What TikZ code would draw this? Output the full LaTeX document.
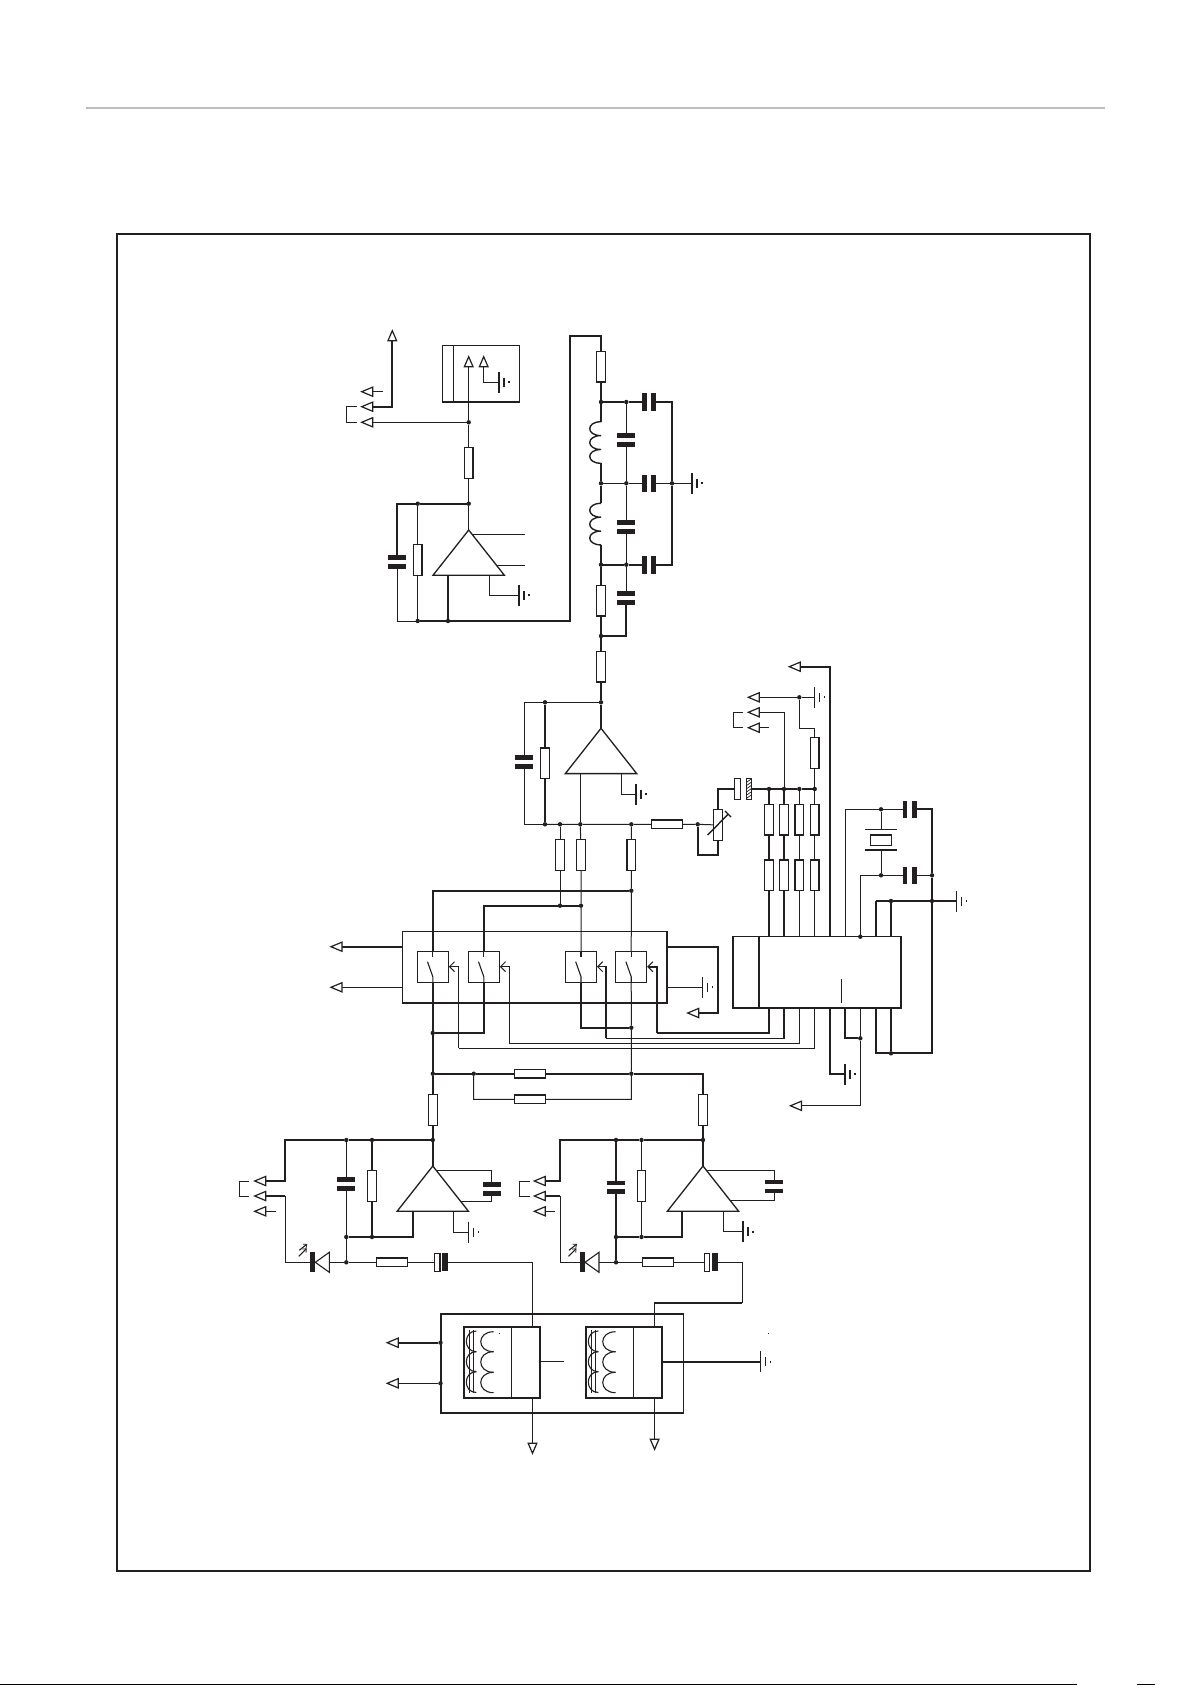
\documentclass[tikz,border=0pt]{standalone}
\usetikzlibrary{calc,arrows.meta,shapes.geometric}
\definecolor{ink}{HTML}{231F20}
\pgfdeclarelayer{paper}
\pgfdeclarelayer{wires}
\pgfsetlayers{paper,wires,main}
\tikzset{
  wire/.style={draw=ink,line width=1pt,line join=miter},
  wireb/.style={draw=ink,line width=1.7pt,line join=miter},
  part/.style={draw=ink,line width=1.2pt,fill=white,inner sep=0pt,outer sep=0pt},
  resv/.style={part,minimum width=8.7pt,minimum height=30.7pt},
  resh/.style={part,minimum width=31pt,minimum height=8.7pt},
  blank/.style={fill=white,inner sep=0pt,outer sep=0pt},
  jn/.style={circle,fill=ink,inner sep=0pt,outer sep=0pt,minimum size=4.4pt},
  tip/.style={draw=ink,line width=1.2pt,fill=white,line join=miter},
  sym/.style={draw=ink,line width=1.1pt},
  barb/.style={-{Straight Barb[length=5pt,width=10pt,line width=1pt]}},
  ledbarb/.style={-{Straight Barb[length=3pt,width=5pt,line width=.8pt]}},
}
\newcommand{\jdot}[3]{\node[jn] (#1) at (#2,#3) {};}
\newcommand{\rv}[3]{\node[resv] (#1) at (#2,#3) {};}
\newcommand{\rh}[3]{\node[resh] (#1) at (#2,#3) {};}
\newcommand{\capv}[3]{\node[blank,minimum width=18pt,minimum height=13.6pt] (#1) at (#2,#3) {};
  \fill[ink] (#1.north west) rectangle ([yshift=-4.7pt]#1.north east);
  \fill[ink] (#1.south west) rectangle ([yshift=4.7pt]#1.south east);}
\newcommand{\caph}[3]{\node[blank,minimum width=14pt,minimum height=17.6pt] (#1) at (#2,#3) {};
  \fill[ink] (#1.north west) rectangle ([xshift=4.7pt]#1.south west);
  \fill[ink] (#1.north east) rectangle ([xshift=-4.7pt]#1.south east);}
\newcommand{\ecap}[3]{\node[blank,minimum width=13.6pt,minimum height=17.8pt] (#1) at (#2,#3) {};
  \draw[sym,fill=white] (#1.north west) rectangle ([xshift=5.6pt]#1.south west);
  \fill[ink] (#1.north east) rectangle ([xshift=-5.6pt]#1.south east);}
\newcommand{\gnd}[3]{\coordinate (#1) at (#2,#3);
  \draw[sym] ($(#1)+(0,-10.5)$) -- ($(#1)+(0,10.5)$);
  \draw[sym] ($(#1)+(5,-4.5)$) -- ($(#1)+(5,4.5)$);
  \draw[sym] ($(#1)+(10,-1)$) -- ($(#1)+(10,1)$);}
\newcommand{\arrL}[3]{\draw[tip] (#2,#3) -- ++(11,-4.6) -- ++(0,9.2) -- cycle;
  \coordinate (#1) at ($(#2,#3)+(11,0)$);}
\newcommand{\arrU}[3]{\draw[tip] (#2,#3) -- ++(-4.3,10) -- ++(8.6,0) -- cycle;
  \coordinate (#1) at ($(#2,#3)+(0,10)$);}
\newcommand{\arrD}[3]{\draw[tip] (#2,#3) -- ++(-4.3,-10) -- ++(8.6,0) -- cycle;
  \coordinate (#1) at ($(#2,#3)+(0,-10)$);}
\newcommand{\ampl}[3]{\draw[draw=ink,line width=1.3pt,fill=white,line join=miter] (#2,#3) -- ++(-35.7,45.3) -- ++(71.4,0) -- cycle;
  \coordinate (#1) at (#2,#3);}
\newcommand{\coil}[3]{\coordinate (#1t) at (#2,#3); \coordinate (#1b) at (#2,#3+41.6);
  \draw[wireb,line width=1.4pt] (#2,#3)
    .. controls ++(-15,0) and ++(-15,0) .. ++(0,13.9)
    .. controls ++(-15,0) and ++(-15,0) .. ++(0,13.9)
    .. controls ++(-15,0) and ++(-15,0) .. ++(0,13.8);}
\newcommand{\boxn}[6]{\pgfmathsetmacro\bcx{(#3+#5)/2}\pgfmathsetmacro\bcy{(#4+#6)/2}%
  \pgfmathsetmacro\bw{#5-#3}\pgfmathsetmacro\bh{#6-#4}%
  \node[draw=ink,inner sep=0pt,outer sep=0pt,minimum width=\bw pt,minimum height=\bh pt,#2] (#1) at (\bcx,\bcy) {};}
\newcommand{\swn}[2]{\node[part,minimum width=31pt,minimum height=30.6pt] (#1) at (#2,967) {};
  \draw[sym] (#2,951.7) -- (#2,956.7);
  \draw[sym] (#2-5.3,961.7) -- (#2,976.7) -- (#2,982.3);}
\newcommand{\led}[3]{\node[blank,minimum width=19pt,minimum height=16pt] (#1) at (#2+9.5,#3) {};
  \fill[ink] (#2,#3-10) rectangle (#2+4.6,#3+10);
  \draw[sym] (#2+5,#3) -- (#2+19,#3-10) -- (#2+19,#3+10) -- cycle;
  \draw[sym,ledbarb] (#2-11.5,#3-6) -- (#2-3.5,#3-14);
  \draw[sym,ledbarb] (#2-11,#3-12) -- (#2-3,#3-18.5);}
\newcommand{\winding}[1]{\begin{scope}[xshift=#1pt]
  \draw[sym] (469.8,1330) -- (469.8,1393.3);
  \draw[sym] (473.6,1330) -- (473.6,1393.3);
  \foreach \ya/\yb in {1331/1351.7,1351.7/1371.7,1371.7/1392.5}{
    \draw[sym] (476.3,\ya) .. controls (463,\ya) and (463,\yb) .. (476.3,\yb);
  }
  \foreach \ya/\yb in {1331.7/1351.7,1351.7/1372.3,1372.3/1392.7}{
    \draw[sym] (493.5,\ya) .. controls (476.5,\ya) and (476.5,\yb) .. (493.5,\yb);
  }
\end{scope}}
\begin{document}
\begin{tikzpicture}[x=1pt,y=-1pt]
\useasboundingbox (0,0) rectangle (1192,1685);
\begin{pgfonlayer}{paper}
\fill[white] (0,0) rectangle (1192,1685);
\end{pgfonlayer}
\draw[draw={rgb,255:red,190;green,190;blue,190},line width=2pt] (86,108) -- (1105,108);
\draw[draw=ink,line width=2pt] (117,234) rectangle (1090,1571);
\fill[black] (0,1684) rectangle (1077,1685);
\fill[black] (1137,1684) rectangle (1155,1685);

%% ---- output stage (top) ----
\arrU{aout}{392.3}{330.7}
\arrL{a1}{361.7}{391.7}
\arrL{a2}{361.7}{406.7}
\arrL{a3}{361.7}{422.3}
\boxn{conn}{line width=1.5pt}{442.7}{345.7}{519.3}{402}
\draw[wire] (453.3,345.7) -- (453.3,402);
\arrU{au1}{468.7}{356.7}
\arrU{au2}{483.7}{356.7}
\gnd{gconn}{499}{382}
\jdot{j1}{468.7}{422.3}
\rv{r1}{468.7}{463}
\jdot{j2}{468.7}{503.7}
\jdot{j3}{417.7}{503.7}
\capv{c1}{397.3}{562}
\rv{r1b}{417.7}{560}
\ampl{amp1}{468.7}{530}
\coordinate (amp1x) at (448,575);
\coordinate (amp1g) at (489,575);
\coordinate (amp1i) at (473,534.3);
\coordinate (amp1j) at (496.7,565);
\gnd{gamp1}{519}{595.3}
\jdot{j4}{417.7}{621}
\jdot{j5}{448}{621}
\coordinate (n1) at (570.3,621);
\coordinate (n2) at (570.3,335.7);

%% ---- filter ----
\rv{r2}{601}{366.7}
\jdot{d1}{601}{402}
\jdot{d2}{626.3}{402}
\caph{ch1}{649}{402}
\capv{cv1}{626.3}{440}
\coil{L1}{601}{421.7}
\jdot{d3}{601}{483.3}
\jdot{d4}{626.3}{483.3}
\caph{ch2}{649}{483.3}
\jdot{d5}{672}{483.3}
\gnd{gfil}{692}{483.3}
\coil{L2}{601}{503.3}
\capv{cv2}{626.3}{526.7}
\jdot{d6}{601}{564.7}
\jdot{d7}{626.3}{564.7}
\caph{ch3}{649}{564.7}
\rv{r3}{601}{600.7}
\capv{cv3}{626.3}{597.7}
\jdot{d8}{601}{636}
\rv{r4}{601}{666.7}
\jdot{d9}{601}{702.3}

%% ---- summing amp ----
\jdot{d10}{545}{702.3}
\capv{c2}{524.3}{761.7}
\rv{r5}{545}{763.3}
\ampl{amp2}{601}{728.3}
\coordinate (amp2x) at (580.3,773.3);
\coordinate (amp2g) at (621,773.3);
\gnd{gamp2}{636}{794}
\jdot{d11}{545}{824.3}
\jdot{d12}{560}{824.3}
\jdot{d13}{580.3}{824.3}
\jdot{d14}{631.3}{824.3}
\rh{r6}{666.7}{824.3}
\jdot{d15}{697.7}{824.3}
\rv{pot}{718}{825}
\draw[wireb,line width=1.4pt] (707.7,835) -- (728.3,814);
\draw[wireb,line width=1.4pt] (725,811) -- (731,817);
\coordinate (lp) at (718,855);
\node[blank,minimum width=17pt,minimum height=20.6pt] (ec1) at (743.2,789) {};
\draw[sym,fill=white] (734.7,778.7) rectangle (740.7,799.3);
\draw[sym] (746.3,778.7) rectangle (751.7,799.3);
\foreach \i in {0,1,2,3,4,5}{\draw[draw=ink,line width=.7pt] (746.3,782.5+3.2*\i) -- (751.7,778.7+3.2*\i);}
\jdot{d16}{769}{789}
\jdot{d17}{784}{789}
\jdot{d18}{799.3}{789}
\jdot{d19}{814.7}{789}
\rv{r7}{769}{819.7}
\rv{r8}{784}{819.7}
\rv{r9}{799.3}{819.7}
\rv{r10}{814.7}{819.7}
\rv{r11}{769}{875.3}
\rv{r12}{784}{875.3}
\rv{r13}{799.3}{875.3}
\rv{r14}{814.7}{875.3}
\rv{r15}{814.7}{753}
\coordinate (n3) at (799.3,728);
\jdot{d20}{799.3}{697.3}
\gnd{gtop}{814.3}{697.3}
\arrL{a4}{789.3}{666.7}
\arrL{a5}{748.3}{697.3}
\arrL{a6}{748.3}{712.3}
\arrL{a7}{748.3}{727.7}

%% ---- controller IC ----
\boxn{ic}{line width=1.6pt}{732.7}{936.3}{901}{1008}
\draw[wireb] (759,936.3) -- (759,1008);
\draw[wire] (841.3,979) -- (841.3,1002.7);
\coordinate (pin1) at (830,936.3);
\coordinate (pin2) at (845,936.3);
\jdot{d21}{881}{809.3}
\caph{ch4}{909.7}{809.3}
\jdot{d22}{932}{875.3}
\caph{ch5}{909.7}{875.3}
\jdot{d25}{881}{875.3}
\coordinate (xa) at (881,829.7);
\coordinate (xb) at (881,850);
\draw[sym] (865,829.7) -- (896.7,829.7);
\draw[sym] (865,850) -- (896.7,850);
\node[part,line width=1.5pt,minimum width=20.6pt,minimum height=10.3pt] (xtal) at (881,840.2) {};
\jdot{d26}{860.3}{936.7}
\coordinate (n4) at (875.7,901);
\jdot{d27}{891}{901}
\jdot{d23}{932}{901}
\gnd{gic}{956.7}{901}
\coordinate (n5) at (932,1053.3);
\jdot{d24}{891}{1053.3}
\jdot{d28}{860.3}{1038.3}
\gnd{gic2}{845}{1074}
\arrL{a8b}{790.4}{1105.8}
\coordinate (n6) at (860.3,1105.8);

%% ---- analogue switches ----
\boxn{swb}{line width=1.2pt}{402.7}{931.7}{667}{1003}
\swn{s1}{432.8}
\swn{s2}{483.8}
\swn{s3}{581}
\swn{s4}{631.2}
\rv{r16}{560}{855}
\rv{r17}{581}{855}
\rv{r18}{631.3}{855}
\jdot{d29}{560}{905.7}
\jdot{d30}{581}{905.7}
\jdot{d31}{631.3}{890.7}
\coordinate (sc1) at (448.8,966.7);
\coordinate (sc2) at (499.8,966.7);
\coordinate (sc3) at (597,966.7);
\coordinate (sc4) at (647.2,966.7);
\coordinate (q1) at (656.7,1032.7);
\coordinate (q2) at (606,1038.3);
\coordinate (q3) at (509.3,1043.3);
\coordinate (q4) at (458.7,1048.3);
\arrL{asw1}{331}{946.7}
\arrL{asw2}{331}{987.3}
\coordinate (swl1) at (402.7,946.7);
\coordinate (swl2) at (402.7,987.3);
\coordinate (swr1) at (667,946.7);
\coordinate (swr2) at (667,987.3);
\gnd{gsw}{702.7}{987.3}
\arrL{asw3}{687.7}{1013}
\coordinate (n7) at (718,1013);
\jdot{d32}{432.8}{1033}
\jdot{d35}{631.3}{1027.7}
\jdot{d33}{432.8}{1073.7}
\jdot{d37}{473.7}{1073.7}
\rh{r20}{530}{1073.7}
\rh{r21}{530}{1099.3}
\jdot{d36}{631.3}{1073.7}
\coordinate (n8) at (631.3,1099.3);
\rv{r19}{432.8}{1110}
\rv{r22}{703}{1110}
\coordinate (n9) at (703,1073.7);

%% ---- left preamp ----
\jdot{d34}{432.8}{1140}
\jdot{d39}{372}{1140}
\jdot{d40}{346.3}{1140}
\coordinate (k1) at (285.3,1140);
\capv{c3}{346.3}{1184}
\rv{r23}{372}{1186}
\ampl{amp3}{432.8}{1166}
\capv{c4}{491.7}{1188.7}
\coordinate (fa3) at (437,1170.7);
\coordinate (fb3) at (461,1201.3);
\coordinate (amp3x) at (412.7,1211.3);
\coordinate (amp3g) at (453.3,1211.3);
\gnd{gamp3}{468.5}{1232}
\jdot{d42}{346.3}{1237}
\jdot{d43}{372}{1237}
\jdot{d41}{346.3}{1262.3}
\rh{r24}{392}{1262.3}
\ecap{ec2}{441.2}{1262.3}
\led{led1}{310.3}{1262.3}
\coordinate (k2) at (285.3,1262.3);
\arrL{a9}{254.7}{1181}
\arrL{a10}{254.7}{1196}
\arrL{a11}{254.7}{1211.3}

%% ---- right preamp ----
\jdot{d38}{703}{1140}
\jdot{d44}{641.5}{1140}
\jdot{d45}{616}{1140}
\coordinate (k3) at (560,1140);
\capv{c5}{616}{1187.3}
\rv{r25}{641.5}{1186}
\ampl{amp4}{703}{1166}
\capv{c6}{774.3}{1186.5}
\coordinate (fa4) at (707,1170.7);
\coordinate (fb4) at (731,1200.7);
\coordinate (amp4x) at (682.3,1211.3);
\coordinate (amp4g) at (723,1211.3);
\gnd{gamp4}{743}{1231.7}
\jdot{d46}{616}{1237}
\jdot{d47}{641.5}{1237}
\jdot{d48}{616}{1262.3}
\rh{r26}{657.6}{1262.3}
\ecap{ec3}{711}{1262.3}
\led{led2}{580}{1262.3}
\coordinate (k4) at (560,1262.3);
\arrL{a12}{534.3}{1181}
\arrL{a13}{534.3}{1196}
\arrL{a14}{534.3}{1211.3}

%% ---- transformers ----
\boxn{tbox}{line width=1.4pt}{441}{1314}{683.3}{1413}
\boxn{t1}{line width=1.6pt}{463.7}{1326.7}{539.8}{1398}
\boxn{t2}{line width=1.6pt}{585.7}{1326.7}{661.9}{1398}
\draw[wire,line width=1.2pt] (511.5,1326.7) -- (511.5,1398);
\draw[wire,line width=1.2pt] (633.5,1326.7) -- (633.5,1398);
\winding{0}
\winding{122}
\coordinate (tw1) at (532.5,1326.7);
\coordinate (tw2) at (654.6,1326.7);
\coordinate (tb1) at (532.5,1398);
\coordinate (tb2) at (654.6,1398);
\coordinate (k5) at (742.2,1302.7);
\coordinate (k6) at (654.6,1302.7);
\coordinate (ts1) at (539.8,1361.7);
\coordinate (ts2) at (563.5,1361.7);
\coordinate (ts3) at (661.9,1361.7);
\gnd{gt}{760.2}{1361.7}
\jdot{d50}{440.5}{1342.7}
\jdot{d51}{440.5}{1383.3}
\arrL{a15}{387.2}{1342.7}
\arrL{a16}{387.2}{1383.3}
\arrD{a17}{532.5}{1453.3}
\arrD{a18}{654.6}{1449.3}
\fill[ink] (499.1,1333) rectangle (499.9,1333.8);
\fill[ink] (768.3,1333) rectangle (769.1,1333.8);

%% ================ connectors ================
\begin{pgfonlayer}{wires}
% top
\draw[wireb] (a2) -| (aout);
\draw[wire] (a1) -- ++(10,0);
\draw[wire] (346,406.7) -- (356.7,406.7);
\draw[wire] (346,422.3) -- (356.7,422.3);
\draw[wire] (346,406.7) -- (346,422.3);
\draw[wire] (a3) -- (j1);
\draw[wire] (au1) -- (j1) -- (r1) -- (j2) -- (amp1);
\draw[wire] (au2) |- (gconn);
\draw[wireb] (j2) -- (j3) -| (c1);
\draw[wire] (c1) |- (j4);
\draw[wire] (j3) -- (r1b) -- (j4);
\draw[wireb] (j4) -- (j5) -- (n1) -- (n2) -| (r2);
\draw[wireb] (amp1x) -- (j5);
\draw[wire] (amp1i) -- ++(52,0);
\draw[wire] (amp1j) -- ++(28.3,0);
\draw[wire] (amp1g) |- (gamp1);
% filter
\draw[wireb] (r2) -- (d1) -- (d2) -- (ch1) -| (d5);
\draw[wireb] (d5) |- (ch3) -- (d7) -- (d6);
\draw[wire] (d3) -- (d4) -- (ch2) -- (d5) -- (gfil);
\draw[wire] (d2) -- (cv1) -- (d4) -- (cv2) -- (d7) -- (cv3);
\draw[wireb] (cv3) |- (d8);
\draw[wireb] (d1) -- (L1t);
\draw[wireb] (L1b) -- (d3) -- (L2t);
\draw[wireb] (L2b) -- (d6) -- (r3) -- (d8) -- (r4) -- (d9) -- (amp2);
% summing amp
\draw[wire] (d9) -- (d10) -| (c2);
\draw[wire] (c2) |- (d11);
\draw[wireb] (d10) -- (r5) -- (d11);
\draw[wire] (d11) -- (d12) -- (d13) -- (d14) -- (r6) -- (d15) -- (pot);
\draw[wire] (amp2x) -- (d13);
\draw[wire] (amp2g) |- (gamp2);
\draw[wireb] (d15) |- (lp) -- (pot);
\draw[wireb] (pot) |- (ec1);
\draw[wireb] (ec1) -- (d16) -- (d17) -- (d18) -- (d19);
\draw[wireb] (d16) -- (r7) -- (r11) -- (r11 |- ic.north);
\draw[wireb] (d17) -- (r8) -- (r12) -- (r12 |- ic.north);
\draw[wire] (d18) -- (r9) -- (r13) -- (r13 |- ic.north);
\draw[wire] (d19) -- (r10) -- (r14) -- (r14 |- ic.north);
\draw[wire] (d19) -- (r15) |- (n3);
\draw[wire] (n3) -- (d20) -- (a5);
\draw[wire] (d20) -- (gtop);
\draw[wire] (d17) |- (a6);
\draw[wire] (a7) -- ++(10,0);
\draw[wire] (733,712.3) -- (743.3,712.3);
\draw[wire] (733,727.7) -- (743.3,727.7);
\draw[wire] (733,712.3) -- (733,727.7);
\draw[wireb] (a4) -| (pin1);
% IC surroundings
\draw[wire] (pin2) |- (d21);
\draw[wire] (d21) -- (ch4);
\draw[wireb] (ch4) -| (d22);
\draw[wireb] (d22) -- (d23) -- (n5) -- (d24) -| (n4 |- ic.south);
\draw[wire] (d21) -- (xa);
\draw[wire] (xb) -- (d25);
\draw[wire] (d25) -| (d26);
\draw[wire] (d25) -- (ch5) -- (d22);
\draw[wireb] (n4) -- (d27) -- (d23) -- (gic);
\draw[wireb] (n4) -- (n4 |- ic.north);
\draw[wireb] (d27) -- (d27 |- ic.north);
\draw[wireb] (d24) -- (d24 |- ic.south);
\draw[wireb] (pin1 |- ic.south) |- (gic2);
\draw[wireb] (pin2 |- ic.south) |- (d28);
\draw[wire] (d26 |- ic.south) -- (d28) -- (n6) -- (a8b);
% IC bottom to switch controls
\draw[wireb] (r11 |- ic.south) |- (q1);
\draw[wireb,barb] (q1) |- (sc4);
\draw[wire,line width=1.3pt] (r12 |- ic.south) |- (q2);
\draw[wire,line width=1.3pt,barb] (q2) |- (sc3);
\draw[wire] (r13 |- ic.south) |- (q3);
\draw[wire,barb] (q3) |- (sc2);
\draw[wire] (r14 |- ic.south) |- (q4);
\draw[wire,barb] (q4) |- (sc1);
% switches
\draw[wire] (d12) -- (r16) -- (d29);
\draw[wire] (d13) -- (r17) -- (d30) -- (s3);
\draw[wire] (d14) -- (r18) -- (d31) -- (s4);
\draw[wireb] (d31) -| (s1);
\draw[wireb] (d30) -- (d29) -| (s2);
\draw[wireb] (s1) -- (d32) -- (d33) -- (r19) -- (d34) -- (amp3);
\draw[wireb] (s2) |- (d32);
\draw[wireb] (s3) |- (d35);
\draw[wire] (s4) -- (d35) -- (d36) -- (n8) -- (r21) -| (d37);
\draw[wireb] (d33) -- (d37) -- (r20) -- (d36) -- (n9) -- (r22) -- (d38) -- (amp4);
\draw[wireb] (asw1) -- (swl1);
\draw[wire] (asw2) -- (swl2);
\draw[wireb] (swr1) -- (n7 |- swr1) -- (n7) -- (asw3);
\draw[wire] (swr2) -- (gsw);
% left preamp
\draw[wireb] (d34) -- (d39) -- (d40) -- (k1) |- (a9);
\draw[wireb] (a10) -- (k1 |- a10);
\draw[wire] (k1 |- a10) -- (k2) -- (led1) -- (d41) -- (r24) -- (ec2) -| (tw1);
\draw[wire] (d40) -- (c3) -- (d42) -- (d41);
\draw[wireb] (d39) -- (r23) -- (d43);
\draw[wireb] (d42) -- (d43) -| (amp3x);
\draw[wire] (fa3) -| (c4);
\draw[wire] (c4) |- (fb3);
\draw[wire] (amp3g) |- (gamp3);
\draw[wire] (a11) -- ++(10,0);
\draw[wire] (239.3,1181) -- (249.3,1181);
\draw[wire] (239.3,1196) -- (249.3,1196);
\draw[wire] (239.3,1181) -- (239.3,1196);
% right preamp
\draw[wireb] (d38) -- (d44) -- (d45) -- (k3) |- (a12);
\draw[wireb] (a13) -- (k3 |- a13);
\draw[wire] (k3 |- a13) -- (k4) -- (led2) -- (d48);
\draw[wire] (d48) -- (r26) -- (ec3) -| (k5);
\draw[wireb] (k5) -- (k6) -- (tw2);
\draw[wireb] (d45) -- (c5) -- (d46) -- (d48);
\draw[wire] (d44) -- (r25) -- (d47);
\draw[wireb] (d46) -- (d47) -| (amp4x);
\draw[wire] (fa4) -| (c6);
\draw[wire] (c6) |- (fb4);
\draw[wire] (amp4g) |- (gamp4);
\draw[wire] (a14) -- ++(10,0);
\draw[wire] (519.3,1181) -- (530,1181);
\draw[wire] (519.3,1196) -- (530,1196);
\draw[wire] (519.3,1181) -- (519.3,1196);
% transformers
\draw[wireb] (a15) -- (d50);
\draw[wire] (a16) -- (d51);
\draw[wireb] (tb1) -- (a17);
\draw[wire] (tb2) -- (a18);
\draw[wire] (ts1) -- (ts2);
\draw[wireb] (ts3) -- (gt);
\end{pgfonlayer}
\end{tikzpicture}
\end{document}
